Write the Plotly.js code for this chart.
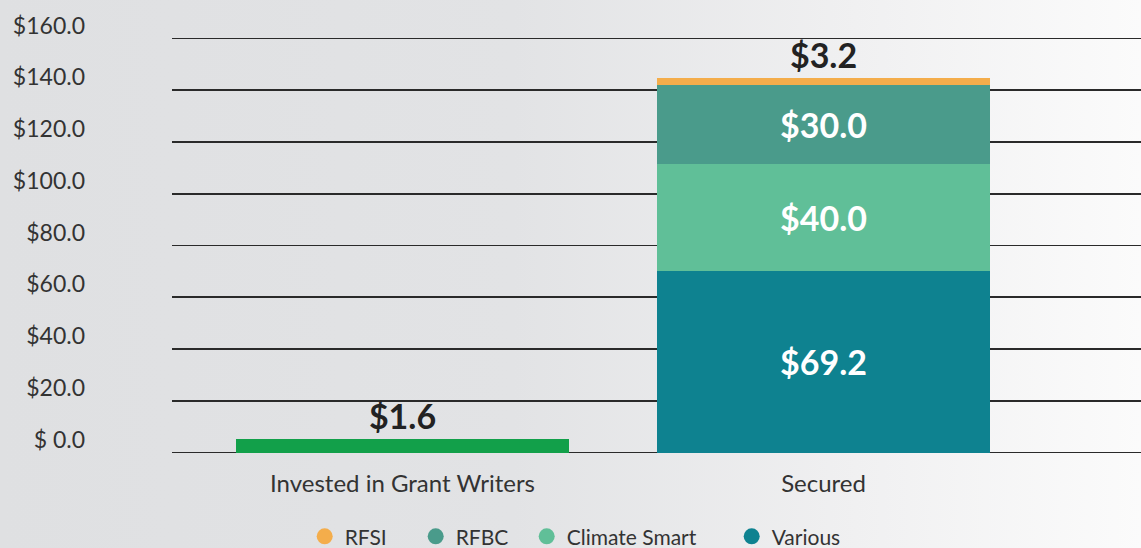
<!DOCTYPE html>
<html>
<head>
<meta charset="utf-8">
<script src="https://cdn.plot.ly/plotly-3.0.1.min.js"></script>
<style>
html, body { margin:0; padding:0; width:1141px; height:548px; overflow:hidden;
  background: linear-gradient(to right, #dfe0e2 0%, #e2e3e5 45%, #f0f0f1 75%, #fbfbfb 100%); }
#chart { width:1141px; height:548px; }
</style>
</head>
<body>
<div id="chart"></div>
<script>
// Categories
var categories = ["Invested in Grant Writers", "Secured"];

// Invested bar (height as drawn) and its label
var investedValues = [5.2];
var investedLabels = ["$1.6"];

// Secured stack segments (heights as drawn) and their labels
var variousValues = [70.0];
var variousLabels = ["$69.2"];
var climateValues = [41.4];
var climateLabels = ["$40.0"];
var rfbcValues = [30.6];
var rfbcLabels = ["$30.0"];
var rfsiValues = [2.6];
var rfsiLabels = ["$3.2"];

// Legend entries
var legendNames = ["RFSI", "RFBC", "Climate Smart", "Various"];
var legendColors = ["#F4AD4B", "#4A9B8B", "#60BF98", "#0E8290"];
var legendWidths = [66, 66, 160, 66];

// Y axis ticks
var yTickVals = [0, 20, 40, 60, 80, 100, 120, 140, 160];
var yTickText = ["$ 0.0", "$20.0", "$40.0", "$60.0", "$80.0", "$100.0", "$120.0", "$140.0", "$160.0"];

var FONT = "Lato, 'Open Sans', sans-serif";
var labelFont = {family: FONT, size: 34, color: "#222222", weight: 700};
var whiteFont = {family: FONT, size: 34, color: "#ffffff", weight: 700};

var traces = [];
traces.push({
  type: "bar", x: [categories[0]], y: investedValues, text: investedLabels,
  textposition: "outside", textfont: labelFont, cliponaxis: false,
  marker: {color: "#12A04A"}, width: 0.791, showlegend: false, hoverinfo: "skip"
});
traces.push({
  type: "bar", x: [categories[1]], y: variousValues, text: variousLabels,
  textposition: "inside", insidetextanchor: "middle", insidetextfont: whiteFont,
  marker: {color: legendColors[3]}, width: 0.791, showlegend: false, hoverinfo: "skip"
});
traces.push({
  type: "bar", x: [categories[1]], y: climateValues, text: climateLabels,
  textposition: "inside", insidetextanchor: "middle", insidetextfont: whiteFont,
  marker: {color: legendColors[2]}, width: 0.791, showlegend: false, hoverinfo: "skip"
});
traces.push({
  type: "bar", x: [categories[1]], y: rfbcValues, text: rfbcLabels,
  textposition: "inside", insidetextanchor: "middle", insidetextfont: whiteFont,
  marker: {color: legendColors[1]}, width: 0.791, showlegend: false, hoverinfo: "skip"
});
traces.push({
  type: "bar", x: [categories[1]], y: rfsiValues, text: rfsiLabels,
  textposition: "outside", outsidetextfont: labelFont, cliponaxis: false,
  marker: {color: legendColors[0]}, width: 0.791, showlegend: false, hoverinfo: "skip"
});
for (var i = 0; i < legendNames.length; i++) {
  traces.push({
    type: "scatter", mode: "markers", x: [null], y: [null], name: legendNames[i],
    marker: {color: legendColors[i], size: 20, symbol: "circle"},
    legendwidth: legendWidths[i], showlegend: true, hoverinfo: "skip"
  });
}

var layout = {
  width: 1141, height: 548,
  paper_bgcolor: "rgba(0,0,0,0)", plot_bgcolor: "rgba(0,0,0,0)",
  margin: {l: 172, r: 0, t: 30, b: 88, autoexpand: false},
  barmode: "stack",
  font: {family: FONT, color: "#333333"},
  xaxis: {
    type: "category", range: [-0.5475, 1.754], showgrid: false, zeroline: false,
    showline: false, ticks: "", tickangle: 0, automargin: false,
    tickfont: {family: FONT, size: 24, color: "#333333"},
    ticklabelstandoff: 7, fixedrange: true
  },
  yaxis: {
    range: [-2.899, 163.29], tickvals: yTickVals, ticktext: yTickText, automargin: false,
    showgrid: true, gridcolor: "#2a2a2a", gridwidth: 1.7, zeroline: false,
    showline: false, ticks: "", tickfont: {family: FONT, size: 23, color: "#333333"},
    ticklabelstandoff: 86, ticklabelshift: -13, fixedrange: true
  },
  showlegend: true,
  legend: {
    orientation: "h", xref: "container", x: 0.5028, xanchor: "center",
    yref: "container", y: 0.058, yanchor: "top",
    font: {family: FONT, size: 21, color: "#333333"},
    bgcolor: "rgba(0,0,0,0)", traceorder: "normal"
  }
};

Plotly.newPlot("chart", traces, layout, {displayModeBar: false, staticPlot: true});
</script>
</body>
</html>
